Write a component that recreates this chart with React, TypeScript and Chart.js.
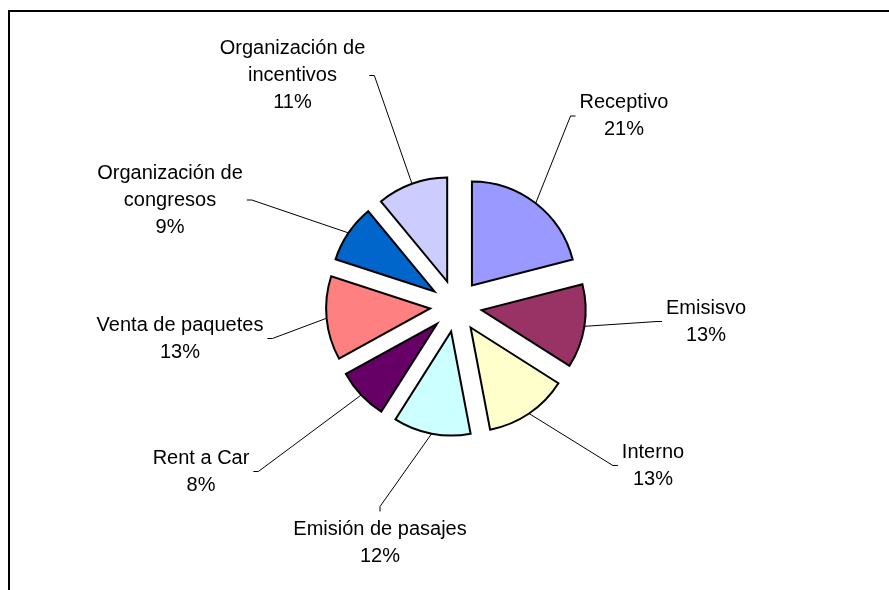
import React, { useEffect, useRef } from "react";
import { Chart, registerables } from "chart.js";

Chart.register(...registerables);

// ---- Data ----
const CATEGORIES = [
  "Receptivo",
  "Emisisvo",
  "Interno",
  "Emisión de pasajes",
  "Rent a Car",
  "Venta de paquetes",
  "Organización de congresos",
  "Organización de incentivos",
];
const VALUES = [21, 13, 13, 12, 8, 13, 9, 11];

// ---- Styles / layout ----
const COLORS = [
  "#9999FF",
  "#993366",
  "#FFFFCC",
  "#CCFFFF",
  "#660066",
  "#FF8080",
  "#0066CC",
  "#CCCCFF",
];
// label block centre, relative to the pie centre (px)
const LABEL_OFFSETS: [number, number][] = [
  [168, -190],
  [250, 15.5],
  [197, 159.5],
  [-76, 236.5],
  [-255, 165.5],
  [-276, 32.5],
  [-286, -106],
  [-163.5, -230.5],
];
const EXPLODE = 26;
const PIE_RADIUS = 104;
const FONT = "20px 'Liberation Sans', Arial, sans-serif";
const LINE_H = 27;
const WRAP_W = 185;
const GAP = 4;
const TICK = 5;

function wrapText(ctx: CanvasRenderingContext2D, text: string, maxW: number): string[] {
  const words = text.split(" ");
  const lines: string[] = [];
  let cur = "";
  for (const w of words) {
    const test = cur ? cur + " " + w : w;
    if (cur && ctx.measureText(test).width > maxW) {
      lines.push(cur);
      cur = w;
    } else {
      cur = test;
    }
  }
  if (cur) lines.push(cur);
  return lines;
}

const explodePlugin = {
  id: "explodeSlices",
  afterDatasetsUpdate(chart: any) {
    const meta = chart.getDatasetMeta(0);
    const a = chart.chartArea;
    const cx = (a.left + a.right) / 2;
    const cy = (a.top + a.bottom) / 2;
    meta.data.forEach((el: any) => {
      const mid = (el.startAngle + el.endAngle) / 2;
      el.x = cx + Math.cos(mid) * EXPLODE;
      el.y = cy + Math.sin(mid) * EXPLODE;
    });
  },
};

const labelPlugin = {
  id: "pieLabels",
  afterDatasetsDraw(chart: any) {
    const ctx: CanvasRenderingContext2D = chart.ctx;
    const meta = chart.getDatasetMeta(0);
    const a = chart.chartArea;
    const cx = (a.left + a.right) / 2;
    const cy = (a.top + a.bottom) / 2;
    const total = VALUES.reduce((s, v) => s + v, 0);
    ctx.save();
    ctx.font = FONT;
    meta.data.forEach((el: any, i: number) => {
      const mid = (el.startAngle + el.endAngle) / 2;
      const R = el.outerRadius;
      const sx = el.x + Math.cos(mid) * R;
      const sy = el.y + Math.sin(mid) * R;
      const lines = wrapText(ctx, CATEGORIES[i], WRAP_W).concat([
        Math.round((VALUES[i] / total) * 100) + "%",
      ]);
      const [dx, dy] = LABEL_OFFSETS[i];
      const lx = cx + dx;
      const ly = cy + dy;
      const w = Math.max(...lines.map((l) => ctx.measureText(l).width));
      const h = lines.length * LINE_H;

      ctx.strokeStyle = "#000";
      ctx.lineWidth = 1;
      ctx.beginPath();
      ctx.moveTo(sx, sy);
      if (Math.abs(dx) < 0.5 * Math.abs(dy)) {
        const edge = dy > 0 ? ly - h / 2 - GAP : ly + h / 2 + GAP;
        const tEnd = dy > 0 ? edge - TICK : edge + TICK;
        ctx.lineTo(lx, tEnd);
        ctx.lineTo(lx, edge);
      } else {
        const edge = dx > 0 ? lx - w / 2 - GAP : lx + w / 2 + GAP;
        const tEnd = dx > 0 ? edge - TICK : edge + TICK;
        ctx.lineTo(tEnd, ly);
        ctx.lineTo(edge, ly);
      }
      ctx.stroke();

      ctx.fillStyle = "#000";
      ctx.textAlign = "center";
      ctx.textBaseline = "middle";
      lines.forEach((l, k) => {
        ctx.fillText(l, lx, ly + (k - (lines.length - 1) / 2) * LINE_H);
      });
    });
    ctx.restore();
  },
};

export default function App() {
  const ref = useRef<HTMLCanvasElement | null>(null);
  useEffect(() => {
    if (!ref.current) return;
    const chart = new Chart(ref.current, {
      type: "pie",
      data: {
        labels: CATEGORIES,
        datasets: [
          {
            data: VALUES,
            backgroundColor: COLORS,
            borderColor: "#000",
            borderWidth: 2,
            borderJoinStyle: "miter",
          } as any,
        ],
      },
      options: {
        responsive: false,
        animation: false,
        events: [],
        radius: PIE_RADIUS,
        layout: { padding: { left: 23, right: 0, top: 22, bottom: 0 } },
        plugins: {
          legend: { display: false },
          tooltip: { enabled: false },
        },
      } as any,
      plugins: [explodePlugin, labelPlugin],
    });
    return () => chart.destroy();
  }, []);

  return (
    <div style={{ position: "absolute", left: 0, top: 0, width: 889, height: 590, background: "#fff", overflow: "hidden" }}>
      <canvas ref={ref} width={889} height={590} style={{ display: "block", position: "absolute", left: 0, top: 0 }} />
      <div
        style={{
          position: "absolute",
          left: 8,
          top: 10,
          width: 881,
          height: 580,
          borderLeft: "2px solid #000",
          borderTop: "2px solid #000",
          boxSizing: "border-box",
          pointerEvents: "none",
        }}
      />
    </div>
  );
}
